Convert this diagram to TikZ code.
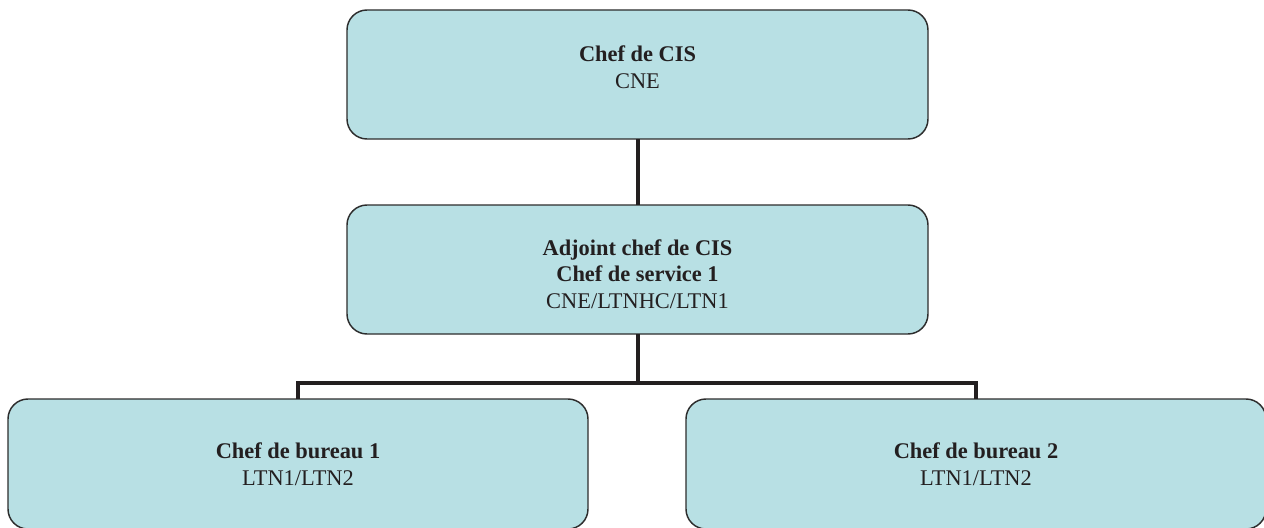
\documentclass[tikz,border=0pt]{standalone}
\usepackage{fontspec}
\setmainfont{Liberation Serif}
\definecolor{boxfill}{RGB}{184,224,228}
\definecolor{boxline}{RGB}{45,45,45}
\definecolor{conn}{RGB}{35,31,32}
\begin{document}
\begin{tikzpicture}[x=0.75pt,y=-0.75pt,
  orgbox/.style={draw=boxline,fill=boxfill,line width=1.1pt,rounded corners=15pt,
    inner sep=0pt,outer sep=0pt},
  boxtext/.style={align=center,font=\fontsize{16.8}{20}\selectfont,text=conn,inner sep=0pt},
  link/.style={draw=conn,line width=3pt}]
\useasboundingbox[fill=white] (0,0) rectangle (1264,528);
\node[orgbox,minimum width=435.75pt,minimum height=96.75pt,
  label={[boxtext,yshift=5.5pt]center:\textbf{Chef de CIS}\\CNE}] (top) at (637.5,74.5) {};
\node[orgbox,minimum width=435.75pt,minimum height=96.75pt,
  label={[boxtext,yshift=-3.5pt]center:\textbf{Adjoint chef de CIS}\\\textbf{Chef de service 1}\\CNE/LTNHC/LTN1}] (mid) at (637.5,269.5) {};
\node[orgbox,minimum width=435pt,minimum height=97.5pt,
  label={[boxtext]center:\textbf{Chef de bureau 1}\\LTN1/LTN2}] (bl) at (298,464) {};
\node[orgbox,minimum width=435pt,minimum height=97.5pt,
  label={[boxtext]center:\textbf{Chef de bureau 2}\\LTN1/LTN2}] (br) at (976,464) {};
\coordinate (jn) at (637.5,383);
\coordinate (jl) at (298,383);
\coordinate (jr) at (976,383);
\draw[link] (top.south) -- (mid.north);
\draw[link] (mid.south) -- (jn);
\draw[link,line join=miter] (bl.north) -- (jl) -- (jr) -- (br.north);
\end{tikzpicture}
\end{document}
